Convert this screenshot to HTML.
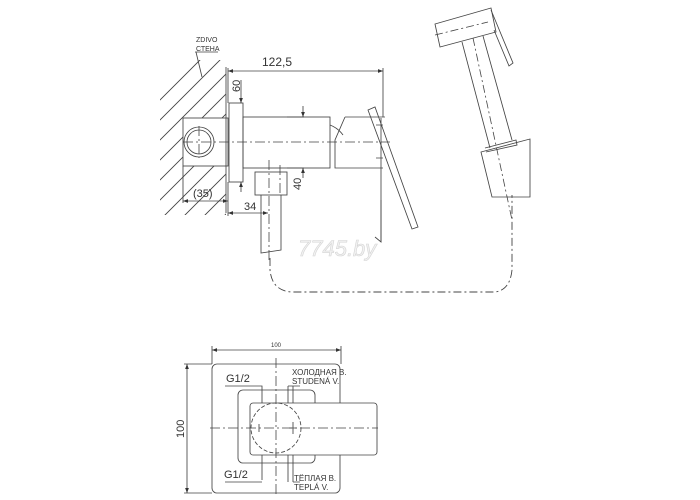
<!DOCTYPE html>
<html><head><meta charset="utf-8"><style>
html,body{margin:0;padding:0;background:#fff;width:700px;height:500px;overflow:hidden}
svg{display:block}
text{font-family:"Liberation Sans","DejaVu Sans",sans-serif;fill:#333}
</style></head><body>
<svg width="700" height="500" viewBox="0 0 700 500" xmlns="http://www.w3.org/2000/svg">
<defs>
<clipPath id="wall"><rect x="160" y="60" width="66" height="155"/></clipPath>
<marker id="ar" viewBox="0 0 8 6" refX="8" refY="3" markerWidth="6" markerHeight="5" orient="auto-start-reverse"><path d="M0,0L8,3L0,6z" fill="#333"/></marker>
</defs>
<g stroke="#444" fill="none" stroke-width="0.85">
<g clip-path="url(#wall)" stroke-width="0.9">
<path d="M150,110L210,50M150,130L230,50M150,150L230,70M150,170L230,90M150,190L230,110M150,210L230,130M150,230L230,150M150,250L230,170M150,270L230,190M150,290L230,210"/>
</g>
<rect x="183" y="118" width="45" height="48" fill="#fff"/>
<line x1="226" y1="67" x2="226" y2="213"/>
<path d="M195,52L218,52M196,52L202,77"/>
<circle cx="199" cy="142" r="15"/>
<circle cx="199" cy="142" r="12"/>
<rect x="229" y="103" width="14" height="79"/>
<rect x="243" y="117" width="87" height="51"/>
<path d="M330,125Q338,128 343,135"/>
<path d="M345,117L385,117M345,117L335,140L335,168L383,168"/>
<path d="M368,110L375,107L418,227L412,229Z"/>
<line x1="381" y1="118" x2="381" y2="242"/>
<path d="M381,200L381,242L375,237"/>
<rect x="255" y="172" width="32" height="23"/>
<path d="M261,195L261,253L281,250L281,195"/>
<g stroke-dasharray="10,3,2,3" stroke-width="0.8">
<path d="M183,142L390,142"/>
<path d="M269,160L269,262"/>
<path d="M199,126L199,158"/>
<path d="M280,165L280,195"/>
</g>
<path d="M270,258L270,270Q272,291 292,292L495,292Q510,290 512,270L512,195" stroke-dasharray="8,3,2,3" stroke-width="0.9"/>
<line x1="228" y1="71" x2="383" y2="71" marker-start="url(#ar)" marker-end="url(#ar)"/>
<line x1="383" y1="68" x2="383" y2="117"/>
<line x1="228" y1="68" x2="228" y2="103"/>
<path d="M241,80L241,103" marker-end="url(#ar)"/>
<path d="M241,192L241,182" marker-end="url(#ar)"/>
<path d="M303,106L303,117" marker-end="url(#ar)"/>
<path d="M303,178L303,168" marker-end="url(#ar)"/>
<path d="M287,117L304,117M287,168L304,168"/>
<path d="M376,125L383,125M376,158L383,158"/>
<line x1="183" y1="201" x2="228" y2="201" marker-start="url(#ar)" marker-end="url(#ar)"/>
<line x1="183" y1="166" x2="183" y2="203"/>
<line x1="228" y1="213" x2="268" y2="213" marker-start="url(#ar)" marker-end="url(#ar)"/>
<line x1="228" y1="182" x2="228" y2="216"/>
<path d="M435,24L491,8L496,32L440,47Z"/>
<path d="M491,10L513,63L509,66L494,30"/>
<path d="M462,42L490,148M483,36L512,140"/>
<path d="M485,148L516,140L517,145L486,152"/>
<path d="M481,152L530,139L530,197L492,197Z"/>
<path d="M435,35L488,22M473,38L512,220" stroke-dasharray="8,3,2,3" stroke-width="0.8"/>
<line x1="212" y1="350" x2="341" y2="350" marker-start="url(#ar)" marker-end="url(#ar)"/>
<path d="M212,346L212,364M341,346L341,364"/>
<line x1="187" y1="364" x2="187" y2="493" marker-start="url(#ar)" marker-end="url(#ar)"/>
<path d="M184,364L212,364M184,493L212,493"/>
<rect x="212" y="364" width="128" height="129" rx="5"/>
<rect x="238" y="390" width="77" height="73" rx="5"/>
<path d="M225,386L262,386L262,480M225,482L262,482"/>
<path d="M288,386L288,482M293,386L293,482"/>
<path d="M288,386L300,386M293,482L300,482"/>
<rect x="250" y="403" width="127" height="52" rx="3" fill="#fff"/>
<circle cx="276" cy="428" r="25" stroke-dasharray="4,2"/>
<g stroke-dasharray="10,3,2,3" stroke-width="0.8">
<path d="M276,358L276,497M210,428L378,428"/>
</g>
<path d="M259,424L259,432M293,422L293,434M289,428L297,428"/>
</g>
<text x="196" y="42" font-size="7">ZDIVO</text>
<text x="196" y="51" font-size="7">СТЕНА</text>
<text x="262" y="66" font-size="12">122,5</text>
<text transform="translate(240,92) rotate(-90)" font-size="11">60</text>
<text transform="translate(301,190) rotate(-90)" font-size="11">40</text>
<text x="193" y="197" font-size="11">(35)</text>
<text x="244" y="210" font-size="11">34</text>
<text x="298" y="256" font-size="22" font-style="italic" style="fill:#f2f2f2;stroke:#d4d4d4;stroke-width:0.6">7745.by</text>
<text x="271" y="347" font-size="6">100</text>
<text transform="translate(184,438) rotate(-90)" font-size="11">100</text>
<text x="226" y="382" font-size="11">G1/2</text>
<text x="224" y="478" font-size="11">G1/2</text>
<text x="292" y="375" font-size="8">ХОЛОДНАЯ В.</text>
<text x="292" y="384" font-size="8">STUDENÁ V.</text>
<text x="294" y="481" font-size="8">ТЁПЛАЯ В.</text>
<text x="294" y="490" font-size="8">TEPLÁ V.</text>
</svg>
</body></html>
